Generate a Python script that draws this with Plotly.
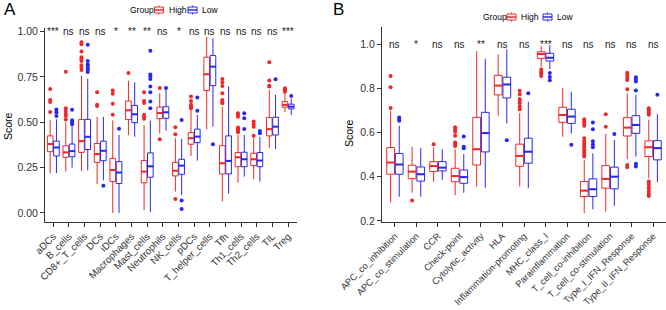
import plotly.graph_objects as go

# ---------------- Panel A data ----------------
A_cats = ["aDCs", "B_cells", "CD8+_T_cells", "DCs", "iDCs", "Macrophages", "Mast_cells",
          "Neutrophils", "NK_cells", "pDCs", "T_helper_cells", "Tfh", "Th1_cells",
          "Th2_cells", "TIL", "Treg"]
A_sig = ["***", "ns", "ns", "ns", "*", "**", "**", "ns", "*", "ns", "ns", "ns", "ns", "ns", "ns", "***"]

A_high_lo = [0.219, 0.228, 0.232, 0.159, 0.0, 0.429, 0.015, 0.438, 0.118, 0.314, 0.462, 0.064, 0.167, 0.186, 0.360, 0.555]
A_high_q1 = [0.338, 0.307, 0.334, 0.279, 0.173, 0.515, 0.166, 0.520, 0.204, 0.379, 0.675, 0.215, 0.255, 0.261, 0.425, 0.583]
A_high_med = [0.380, 0.334, 0.396, 0.325, 0.237, 0.566, 0.228, 0.551, 0.233, 0.412, 0.765, 0.274, 0.307, 0.296, 0.462, 0.596]
A_high_q3 = [0.425, 0.370, 0.515, 0.383, 0.301, 0.617, 0.289, 0.584, 0.279, 0.443, 0.859, 0.371, 0.333, 0.329, 0.526, 0.614]
A_high_hi = [0.511, 0.500, 0.757, 0.530, 0.511, 0.730, 0.484, 0.660, 0.412, 0.568, 0.972, 0.586, 0.430, 0.412, 0.678, 0.660]
A_high_out = [[0.557, 0.612, 0.623, 0.684], [0.515, 0.535, 0.547, 0.562, 0.578, 0.779],
              [0.789, 0.801, 0.815, 0.838, 0.848, 0.859, 0.890, 0.930, 0.941], [0.590, 0.597, 0.666],
              [0.542, 0.602, 0.657, 0.675], [0.772], [0.520, 0.533, 0.542, 0.606, 0.617, 0.666],
              [0.407, 0.689], [0.077, 0.434, 0.473], [0.577, 0.586, 0.596, 0.618, 0.642], [],
              [0.605, 0.614, 0.623, 0.660, 0.700, 0.721, 0.739],
              [0.445, 0.452, 0.458, 0.463, 0.471, 0.531, 0.541, 0.550], [0.426, 0.476, 0.489, 0.504],
              [0.697, 0.702, 0.730, 0.831], [0.669, 0.675, 0.682, 0.688]]

A_low_lo = [0.220, 0.250, 0.234, 0.180, 0.0, 0.420, 0.005, 0.454, 0.099, 0.289, 0.476, 0.107, 0.200, 0.173, 0.353, 0.540]
A_low_q1 = [0.314, 0.310, 0.350, 0.288, 0.162, 0.498, 0.197, 0.522, 0.213, 0.388, 0.702, 0.215, 0.255, 0.255, 0.430, 0.574]
A_low_med = [0.361, 0.341, 0.420, 0.343, 0.223, 0.544, 0.257, 0.555, 0.261, 0.421, 0.807, 0.287, 0.296, 0.289, 0.476, 0.586]
A_low_q3 = [0.396, 0.380, 0.516, 0.396, 0.283, 0.593, 0.331, 0.586, 0.296, 0.462, 0.868, 0.425, 0.335, 0.333, 0.528, 0.600]
A_low_hi = [0.516, 0.478, 0.740, 0.530, 0.430, 0.720, 0.510, 0.680, 0.408, 0.540, 0.963, 0.697, 0.430, 0.420, 0.651, 0.630]
A_low_out = [[0.535, 0.555, 0.570], [0.489, 0.500, 0.511, 0.569],
             [0.778, 0.790, 0.800, 0.810, 0.820, 0.838, 0.927], [0.150], [0.465], [],
             [0.578, 0.615, 0.666, 0.697, 0.739, 0.752, 0.763, 0.894], [0.689], [0.022, 0.068, 0.513],
             [0.564, 0.636], [0.379], [], [0.463, 0.522, 0.550], [0.440, 0.452], [0.737], [0.645]]

A_yticks = [0.00, 0.25, 0.50, 0.75, 1.00]

# ---------------- Panel B data ----------------
B_cats = ["APC_co_inhibition", "APC_co_stimulation", "CCR", "Check-point", "Cytolytic_activity",
          "HLA", "Inflammation-promoting", "MHC_class_I", "Parainflammation",
          "T_cell_co-inhibition", "T_cell_co-stimulation", "Type_I_IFN_Response",
          "Type_II_IFN_Response"]
B_sig = ["ns", "*", "ns", "ns", "**", "ns", "ns", "***", "ns", "ns", "ns", "ns", "ns"]

B_high_lo = [0.283, 0.327, 0.377, 0.317, 0.355, 0.676, 0.355, 0.897, 0.581, 0.235, 0.242, 0.479, 0.393]
B_high_q1 = [0.411, 0.391, 0.423, 0.377, 0.453, 0.770, 0.447, 0.935, 0.646, 0.310, 0.348, 0.584, 0.491]
B_high_med = [0.464, 0.423, 0.448, 0.403, 0.524, 0.812, 0.494, 0.955, 0.679, 0.337, 0.390, 0.622, 0.533]
B_high_q3 = [0.532, 0.452, 0.468, 0.438, 0.668, 0.858, 0.547, 0.965, 0.714, 0.378, 0.450, 0.667, 0.562]
B_high_hi = [0.698, 0.535, 0.532, 0.524, 0.968, 0.953, 0.688, 0.991, 0.800, 0.476, 0.593, 0.777, 0.657]
B_high_out = [[0.711, 0.805, 0.855], [0.292], [0.547], [0.539, 0.547, 0.555, 0.585, 0.603, 0.615, 0.623],
              [], [], [0.705, 0.717, 0.732, 0.742, 0.751, 0.773, 0.789], [0.855, 0.866, 0.874, 0.885], [],
              [0.491, 0.500, 0.510, 0.520, 0.530, 0.540, 0.550, 0.560, 0.574, 0.630, 0.640, 0.650, 0.660],
              [0.626, 0.682], [0.443, 0.453, 0.795, 0.837, 0.848, 0.860, 0.870],
              [0.313, 0.322, 0.332, 0.345, 0.355, 0.367, 0.378, 0.680, 0.690, 0.700, 0.710]]

B_low_lo = [0.309, 0.309, 0.385, 0.327, 0.350, 0.641, 0.348, 0.886, 0.596, 0.253, 0.268, 0.491, 0.375]
B_low_q1 = [0.411, 0.380, 0.426, 0.370, 0.512, 0.756, 0.461, 0.923, 0.641, 0.310, 0.345, 0.596, 0.476]
B_low_med = [0.455, 0.411, 0.441, 0.398, 0.597, 0.817, 0.513, 0.938, 0.672, 0.343, 0.400, 0.634, 0.529]
B_low_q3 = [0.505, 0.444, 0.468, 0.430, 0.691, 0.850, 0.574, 0.958, 0.705, 0.390, 0.443, 0.676, 0.563]
B_low_hi = [0.630, 0.529, 0.524, 0.502, 0.933, 0.976, 0.739, 0.995, 0.784, 0.506, 0.566, 0.770, 0.682]
B_low_out = [[0.653, 0.661, 0.668], [], [], [0.529, 0.535, 0.582], [], [0.565], [0.777],
             [0.836, 0.851, 0.869], [0.544], [0.533, 0.545, 0.560, 0.615, 0.645], [0.593],
             [0.446, 0.458, 0.790, 0.830, 0.840, 0.850], [0.770]]

B_yticks = [0.2, 0.4, 0.6, 0.8, 1.0]

groups = ["High", "Low"]

# ---------------- styling ----------------
W, H = 666, 310
RED = "rgb(238,40,40)"
BLUE = "rgb(40,40,238)"
AXC = "#333333"
FONT = "Liberation Sans, Arial, Helvetica, sans-serif"
OFF = 0.2
BW = 0.36


def px(x):
    return x / W


def py(y):
    return 1 - y / H


fig = go.Figure()


def add_group(xa, ya, n, off, lo, q1, med, q3, hi, out, color):
    xs = [i + off for i in range(n)]
    fig.add_trace(go.Box(
        x=xs, q1=q1, median=med, q3=q3, lowerfence=lo, upperfence=hi,
        orientation="v", width=BW, whiskerwidth=0, boxpoints=False,
        line=dict(color=color, width=1), fillcolor="white",
        xaxis=xa, yaxis=ya, showlegend=False, hoverinfo="skip"))
    # thicker median lines
    mx, my = [], []
    for x, m in zip(xs, med):
        mx += [x - BW / 2, x + BW / 2, None]
        my += [m, m, None]
    fig.add_trace(go.Scatter(x=mx, y=my, mode="lines", line=dict(color=color, width=2),
                             xaxis=xa, yaxis=ya, showlegend=False, hoverinfo="skip"))
    ox, oy = [], []
    for x, o in zip(xs, out):
        ox += [x] * len(o)
        oy += o
    fig.add_trace(go.Scatter(x=ox, y=oy, mode="markers",
                             marker=dict(color=color, size=4, line=dict(width=0)),
                             xaxis=xa, yaxis=ya, showlegend=False, hoverinfo="skip"))


nA, nB = len(A_cats), len(B_cats)
add_group("x", "y", nA, -OFF, A_high_lo, A_high_q1, A_high_med, A_high_q3, A_high_hi, A_high_out, RED)
add_group("x", "y", nA, OFF, A_low_lo, A_low_q1, A_low_med, A_low_q3, A_low_hi, A_low_out, BLUE)
add_group("x2", "y2", nB, -OFF, B_high_lo, B_high_q1, B_high_med, B_high_q3, B_high_hi, B_high_out, RED)
add_group("x2", "y2", nB, OFF, B_low_lo, B_low_q1, B_low_med, B_low_q3, B_low_hi, B_low_out, BLUE)

axis_common = dict(showgrid=False, zeroline=False, showline=True, linecolor=AXC, linewidth=1,
                   ticks="outside", ticklen=4, tickcolor=AXC, tickwidth=1, automargin=False,
                   tickfont=dict(family=FONT, size=9.8, color=AXC))
yfont = dict(family=FONT, size=10.5, color=AXC)
xfontB = dict(family=FONT, size=9.3, color=AXC)

fig.update_layout(
    width=W, height=H, margin=dict(l=0, r=0, t=0, b=0, autoexpand=False),
    paper_bgcolor="white", plot_bgcolor="white", showlegend=False,
    boxmode="overlay", hovermode=False,
    xaxis=dict(domain=[px(45), px(297)], range=[-0.53, nA - 1 + 0.57], anchor="y",
               tickmode="array", tickvals=list(range(nA)), ticktext=A_cats, tickangle=-45,
               **axis_common),
    yaxis=dict(domain=[py(222), py(28)], range=[-0.05, 1.02], anchor="x",
               tickmode="array", tickvals=A_yticks, ticktext=[f"{v:.2f}" for v in A_yticks],
               **{**axis_common, "tickfont": yfont}),
    xaxis2=dict(domain=[px(382), px(666)], range=[-0.6, nB - 1 + 0.6], anchor="y2",
                tickmode="array", tickvals=list(range(nB)), ticktext=B_cats, tickangle=-45,
                **{**axis_common, "tickfont": xfontB}),
    yaxis2=dict(domain=[py(222), py(27)], range=[0.195, 1.077], anchor="x2",
                tickmode="array", tickvals=B_yticks, ticktext=[f"{v:.1f}" for v in B_yticks],
                **{**axis_common, "tickfont": yfont}),
)

ann = []
for i, s in enumerate(A_sig):
    ann.append(dict(x=i, y=1.0, xref="x", yref="y", text=s, showarrow=False,
                    font=dict(family=FONT, size=10, color="#222")))
for i, s in enumerate(B_sig):
    ann.append(dict(x=i, y=1.0, xref="x2", yref="y2", text=s, showarrow=False,
                    font=dict(family=FONT, size=10, color="#222")))

# panel letters
ann.append(dict(x=px(2), y=py(10), xref="paper", yref="paper", text="A", showarrow=False,
                xanchor="left", yanchor="middle", font=dict(family=FONT, size=17, color="black")))
ann.append(dict(x=px(331), y=py(10), xref="paper", yref="paper", text="B", showarrow=False,
                xanchor="left", yanchor="middle", font=dict(family=FONT, size=17, color="black")))

# y titles
ann.append(dict(x=px(8), y=py(126), xref="paper", yref="paper", text="Score", showarrow=False,
                textangle=-90, xanchor="center", yanchor="middle",
                font=dict(family=FONT, size=10.5, color="black")))
ann.append(dict(x=px(349), y=py(133), xref="paper", yref="paper", text="Score", showarrow=False,
                textangle=-90, xanchor="center", yanchor="middle",
                font=dict(family=FONT, size=10.5, color="black")))

shapes = []


def legend(gx, yc, icon_x, text_x):
    ann.append(dict(x=px(gx), y=py(yc), xref="paper", yref="paper", text="Group", showarrow=False,
                    xanchor="left", yanchor="middle", font=dict(family=FONT, size=8.5, color="black")))
    for g, col, ix, tx in zip(groups, [RED, BLUE], icon_x, text_x):
        shapes.append(dict(type="rect", xref="paper", yref="paper", x0=px(ix), x1=px(ix + 9),
                           y0=py(yc + 3), y1=py(yc - 3), line=dict(color=col, width=1),
                           fillcolor="white"))
        shapes.append(dict(type="line", xref="paper", yref="paper", x0=px(ix), x1=px(ix + 9),
                           y0=py(yc), y1=py(yc), line=dict(color=col, width=1.5)))
        shapes.append(dict(type="line", xref="paper", yref="paper", x0=px(ix + 4.5), x1=px(ix + 4.5),
                           y0=py(yc - 3), y1=py(yc - 4.5), line=dict(color=col, width=1)))
        shapes.append(dict(type="line", xref="paper", yref="paper", x0=px(ix + 4.5), x1=px(ix + 4.5),
                           y0=py(yc + 3), y1=py(yc + 4.5), line=dict(color=col, width=1)))
        ann.append(dict(x=px(tx), y=py(yc), xref="paper", yref="paper", text=g, showarrow=False,
                        xanchor="left", yanchor="middle", font=dict(family=FONT, size=8.5, color="black")))


legend(128, 10, [154.5, 188], [166.5, 200])
legend(481, 17, [507, 543], [519, 555])

fig.update_layout(annotations=ann, shapes=shapes)
# remove the browser's default 8px page margin so the figure sits at the window's top-left corner
fig.write_html("out.html", config={"displayModeBar": False, "staticPlot": True},
               post_script="document.body.style.margin='0';document.body.style.overflow='hidden';")
